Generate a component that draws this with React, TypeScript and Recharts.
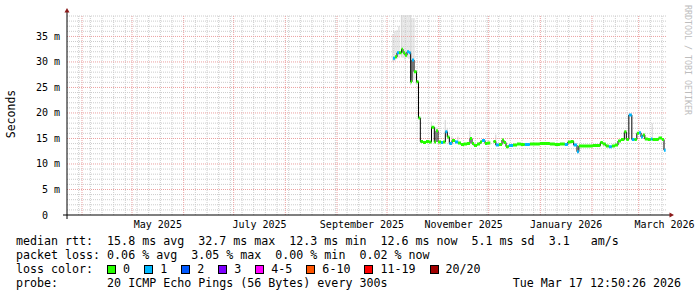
import React from "react";
import {
  ComposedChart,
  Line,
  Bar,
  XAxis,
  YAxis,
  ReferenceLine,
  ReferenceDot,
} from "recharts";

// sample times as days after 1 Apr 2025
const days = [
  186.6, 187.8, 189.0, 190.2, 191.7, 192.6, 193.8, 195.0, 196.2, 197.2,
  198.0, 199.2, 200.7, 201.9, 203.0, 204.6, 206.4, 208.2, 209.7, 211.4,
  212.4, 213.6, 215.4, 216.6, 218.0, 219.2, 220.4, 222.0, 223.8, 225.6,
  227.4, 229.2, 231.0, 232.8, 234.0, 235.2, 237.0, 238.8, 240.0, 241.8,
  243.2, 245.0, 246.9, 248.3, 250.1, 252.0, 253.1, 254.4, 256.1, 258.6,
  261.0, 263.3, 265.7, 268.7, 271.7, 274.7, 277.7, 280.7, 283.7, 286.7,
  289.7, 291.5, 293.3, 295.0, 297.0, 298.1, 300.5, 303.5, 306.5, 309.5,
  311.0, 312.5, 314.3, 316.1, 317.9, 319.7, 321.6, 323.4, 325.4, 326.6,
  328.1, 329.9, 331.4, 332.9, 334.2, 335.4, 336.5, 337.7, 339.5, 341.3,
  342.2, 344.0, 346.0, 348.0, 349.2,
];

// median rtt in ms (null = no data)
const medianMs = [
  30.7, 31.0, 31.8, 31.8, 32.5, 31.8, 31.3, 32.0, 31.8, 26.1,
  30.4, 28.1, 26.1, 19.0, 14.4, 14.2, 14.4, 14.3, 17.2, 14.3,
  16.5, 14.3, 14.2, 14.3, 16.3, 15.3, 14.0, 14.6, 14.3, 14.1,
  13.8, 13.9, 14.0, 15.0, 14.0, 13.6, 13.9, 14.3, 14.6, 14.0,
  14.1, null, 14.4, 13.7, 13.8, 14.7, 14.2, 13.4, 13.6, 13.7,
  13.9, 13.8, 13.8, 13.9, 13.9, 14.0, 14.0, 13.9, 13.8, 13.9,
  13.8, 14.3, 14.4, 13.7, 12.4, 13.5, 13.5, 13.5, 13.6, 13.6,
  14.2, 13.9, 13.5, 13.4, 13.5, 13.7, 14.5, 14.8, 16.3, 14.8,
  19.6, 14.8, 14.8, 16.0, 16.1, 15.3, 15.7, 14.9, 14.8, 14.9,
  14.8, 14.8, 15.1, 14.8, 12.7,
];

// lost pings out of 20
const lossCount = [
  1, 0, 1, 0, 0, 0, 0, 1, 1, 0,
  1, 0, 0, 0, 0, 0, 0, 0, 0, 0,
  0, 0, 1, 0, 1, 0, 1, 0, 1, 0,
  0, 0, 0, 0, 0, 0, 0, 0, 1, 0,
  0, 0, 0, 1, 0, 0, 0, 0, 1, 0,
  0, 0, 1, 0, 0, 0, 0, 0, 0, 0,
  1, 0, 0, 1, 1, 0, 0, 0, 0, 0,
  0, 0, 0, 1, 0, 0, 0, 0, 0, 0,
  1, 1, 0, 0, 1, 1, 0, 0, 0, 1,
  0, 0, 0, 0, 1,
];

// smoke range (null = nothing visible)
const smokeLow = [
  30.0, 30.2, 30.6, 30.8, 31.0, 30.8, 30.5, 30.8, 30.6, 25.5,
  27.0, 26.5, 25.6, null, null, null, null, null, 17.2, null,
  16.5, null, null, null, 16.3, 15.3, null, 14.6, null, 14.1,
  null, null, null, 15.0, null, null, null, null, null, null,
  null, null, null, 13.7, null, null, null, null, null, null,
  null, null, null, null, null, null, null, null, null, null,
  null, null, null, null, null, null, null, null, null, null,
  null, null, null, null, null, null, null, null, null, null,
  null, null, null, null, null, null, null, null, null, null,
  14.8, null, null, null, null,
];
const smokeHigh = [
  35.5, 36.0, 36.2, 37.0, 39.2, 39.2, 39.2, 39.2, 39.2, 39.2,
  38.6, 38.6, 28.4, null, null, null, null, null, 18.3, null,
  17.2, null, null, null, 18.6, 17.0, null, 15.4, null, 15.4,
  null, null, null, 16.5, null, null, null, null, null, null,
  null, null, null, 15.8, null, null, null, null, null, null,
  null, null, null, null, null, null, null, null, null, null,
  null, null, null, null, null, null, null, null, null, null,
  null, null, null, null, null, null, null, null, null, null,
  null, null, null, null, null, null, null, null, null, null,
  18.0, null, null, null, null,
];

const xTickDays = [45.5, 106.5, 168, 229, 290.5, 349.5];
const xTickLabels = ["May 2025", "July 2025", "September 2025", "November 2025", "January 2026", "March 2026"];
const monthStarts = [0, 30, 61, 91, 122, 153, 183, 214, 244, 275, 306, 334];
const weekLines = Array.from({ length: 51 }, (_, i) => -2 + 7 * i).filter(
  (d) => !monthStarts.includes(d)
);

const yTicks = [0, 5, 10, 15, 20, 25, 30, 35];
const yTickLabels = ["0\u00a0\u00a0", "5 m", "10 m", "15 m", "20 m", "25 m", "30 m", "35 m"];
const yMinor = Array.from({ length: 40 }, (_, i) => i).filter((v) => v % 5 !== 0);

const X_DOMAIN: [number, number] = [-9, 351];
const Y_DOMAIN: [number, number] = [0, 39.2];
const MONO = "DejaVu Sans Mono, monospace";

const lossLegend = [
  { label: "0", color: "#26ff00" },
  { label: "1", color: "#00b8ff" },
  { label: "2", color: "#0059ff" },
  { label: "3", color: "#7e00ff" },
  { label: "4-5", color: "#ff00ff" },
  { label: "6-10", color: "#ff5500" },
  { label: "11-19", color: "#ff0000" },
  { label: "20/20", color: "#a10000" },
];

const statsLine = "median rtt:  15.8 ms avg  32.7 ms max  12.3 ms min  12.6 ms now  5.1 ms sd  3.1   am/s";
const lossLine = "packet loss: 0.06 % avg  3.05 % max  0.00 % min  0.02 % now";
const probeLine = "probe:       20 ICMP Echo Pings (56 Bytes) every 300s";
const stampLine = "Tue Mar 17 12:50:26 2026";

const rows = days.map((d, i) => ({
  d,
  med: medianMs[i],
  loss: lossCount[i],
  lo: smokeLow[i],
  hi: smokeHigh[i],
}));

// horizontal median pieces, one per sample, coloured by loss
const segRows: Record<string, number | null>[] = [];
rows.forEach((r, i) => {
  if (r.med == null) return;
  const end = i + 1 < rows.length ? rows[i + 1].d : r.d + 1;
  const key = r.loss > 0 ? "c" : "g";
  segRows.push({ d: r.d, [key]: r.med }, { d: end, [key]: r.med }, { d: end });
});

function XTick(props: any) {
  const { x, y, payload } = props;
  const i = xTickDays.indexOf(payload.value);
  return (
    <text x={x} y={y} dy={13} textAnchor="middle" fontFamily={MONO} fontSize={10} fill="#000">
      {xTickLabels[i]}
    </text>
  );
}

function YTick(props: any) {
  const { x, y, payload } = props;
  const i = yTicks.indexOf(payload.value);
  return (
    <text x={x - 7} y={y} dy={3.5} textAnchor="end" fontFamily={MONO} fontSize={10} fill="#000">
      {yTickLabels[i]}
    </text>
  );
}

const ARROW = "#8b1a1a";

function UpArrow(p: any) {
  return (
    <g>
      <line x1={p.cx} y1={p.cy} x2={p.cx} y2={p.cy - 3} stroke="#000" />
      <path d={`M${p.cx - 2.5},${p.cy - 2.5} L${p.cx + 2.5},${p.cy - 2.5} L${p.cx},${p.cy - 7} Z`} fill={ARROW} />
    </g>
  );
}

function RightArrow(p: any) {
  return (
    <g>
      <line x1={p.cx} y1={p.cy} x2={p.cx + 3} y2={p.cy} stroke="#000" />
      <path d={`M${p.cx + 2.5},${p.cy - 2.5} L${p.cx + 2.5},${p.cy + 2.5} L${p.cx + 7},${p.cy} Z`} fill={ARROW} />
    </g>
  );
}

function Origin(p: any) {
  return (
    <g stroke="#000">
      <line x1={p.cx - 4} y1={p.cy} x2={p.cx} y2={p.cy} />
      <line x1={p.cx} y1={p.cy} x2={p.cx} y2={p.cy + 4} />
    </g>
  );
}

const textLine = (top: number): React.CSSProperties => ({
  position: "absolute",
  top,
  fontFamily: MONO,
  fontSize: 11.65,
  lineHeight: "14px",
  whiteSpace: "pre",
  color: "#000",
});

const MINOR = "#cccccc";
const MAJOR = "#eba0a0";

export default function App() {
  return (
    <div style={{ position: "absolute", left: 0, top: 0, width: 697, height: 297, background: "#fff", overflow: "hidden" }}>
      <ComposedChart
        width={697}
        height={235}
        data={rows}
        margin={{ top: 15, right: 30, bottom: 0, left: 0 }}
      >
        <XAxis
          type="number"
          dataKey="d"
          domain={X_DOMAIN}
          ticks={xTickDays}
          interval={0}
          allowDataOverflow
          height={20}
          tickSize={0}
          tickMargin={0}
          tickLine={false}
          axisLine={{ stroke: "#000" }}
          tick={<XTick />}
        />
        <YAxis
          type="number"
          domain={Y_DOMAIN}
          ticks={yTicks}
          interval={0}
          allowDataOverflow
          width={67}
          tickSize={0}
          tickMargin={0}
          tickLine={false}
          axisLine={{ stroke: "#000" }}
          tick={<YTick />}
        />
        {yMinor.map((v) => (
          <ReferenceLine key={`ym${v}`} y={v} stroke={MINOR} strokeDasharray="1 1" />
        ))}
        {weekLines.map((d) => (
          <ReferenceLine key={`xw${d}`} x={d} stroke={MINOR} strokeDasharray="1 1" />
        ))}
        {yTicks.slice(1).map((v) => (
          <ReferenceLine key={`yM${v}`} y={v} stroke={MAJOR} strokeDasharray="1 1" />
        ))}
        {monthStarts.map((d) => (
          <ReferenceLine key={`xM${d}`} x={d} stroke={MAJOR} strokeDasharray="1 1" />
        ))}
        <Bar
          dataKey={(r: any) => (r.hi == null ? null : [r.lo, r.hi])}
          fill="#dadada"
          barSize={3}
          isAnimationActive={false}
        />
        <Line
          dataKey="med"
          type="stepAfter"
          stroke="#000"
          strokeWidth={1}
          dot={false}
          activeDot={false}
          isAnimationActive={false}
        />
        <Line
          data={segRows}
          dataKey="g"
          type="linear"
          stroke="#26ff00"
          strokeWidth={3}
          dot={false}
          activeDot={false}
          isAnimationActive={false}
        />
        <Line
          data={segRows}
          dataKey="c"
          type="linear"
          stroke="#00b8ff"
          strokeWidth={3}
          dot={false}
          activeDot={false}
          isAnimationActive={false}
        />
        <ReferenceDot x={X_DOMAIN[0]} y={Y_DOMAIN[1]} r={0} shape={UpArrow} />
        <ReferenceDot x={X_DOMAIN[1]} y={0} r={0} shape={RightArrow} />
        <ReferenceDot x={X_DOMAIN[0]} y={0} r={0} shape={Origin} />
      </ComposedChart>

      <div
        style={{
          position: "absolute",
          left: 11,
          top: 114,
          transform: "translate(-50%, -50%) rotate(-90deg)",
          fontFamily: MONO,
          fontSize: 11.5,
          whiteSpace: "nowrap",
          color: "#000",
        }}
      >
        Seconds
      </div>
      <div
        style={{
          position: "absolute",
          left: 683,
          top: 5,
          writingMode: "vertical-rl",
          fontFamily: MONO,
          fontSize: 8.3,
          color: "#bdbdbd",
          whiteSpace: "nowrap",
        }}
      >
        RRDTOOL / TOBI OETIKER
      </div>

      <div style={{ ...textLine(234), left: 16 }}>{statsLine}</div>
      <div style={{ ...textLine(248), left: 16 }}>{lossLine}</div>
      <div style={{ ...textLine(262), left: 16 }}>
        {"loss color:  "}
        {lossLegend.map((l) => (
          <React.Fragment key={l.label}>
            <span
              style={{
                display: "inline-block",
                width: 9,
                height: 9,
                boxSizing: "border-box",
                border: "1px solid #000",
                background: l.color,
                verticalAlign: "-1px",
              }}
            />
            {` ${l.label}  `}
          </React.Fragment>
        ))}
      </div>
      <div style={{ ...textLine(276), left: 16 }}>{probeLine}</div>
      <div style={{ ...textLine(276), right: 16 }}>{stampLine}</div>
    </div>
  );
}
